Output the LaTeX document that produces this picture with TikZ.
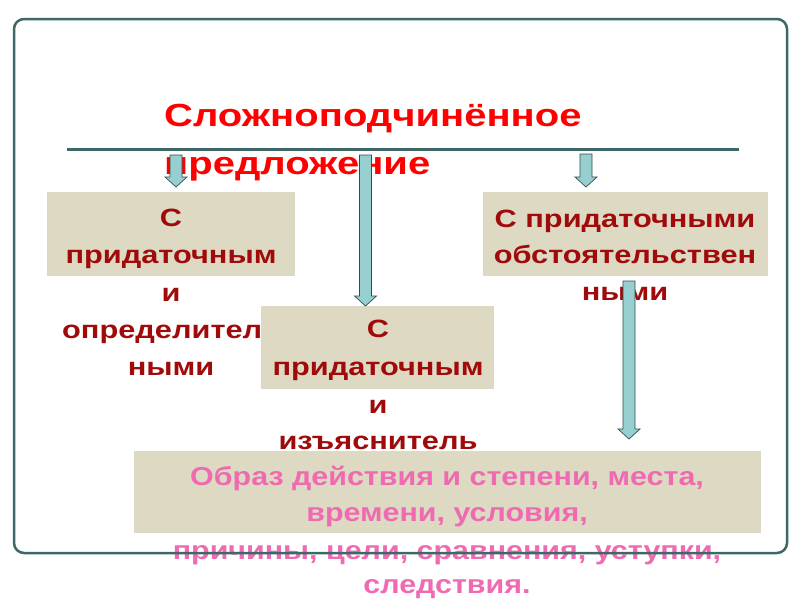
\documentclass[tikz,border=0pt]{standalone}
\usepackage{fontspec}
\setmainfont{Liberation Sans}
\newfontfamily\widefont[FakeStretch=1.23]{Liberation Sans}
\newfontfamily\titlefont[FakeStretch=1.25]{Liberation Sans}
\newfontfamily\pinkfont[FakeStretch=1.17]{Liberation Sans}
\definecolor{frame}{HTML}{3E6868}
\definecolor{tan}{HTML}{DDD9C3}
\definecolor{darkred}{HTML}{A00A0A}
\definecolor{pinktxt}{HTML}{F06AB2}
\definecolor{arrfill}{HTML}{97CFD0}
\definecolor{arrline}{HTML}{2F4F4F}
\definecolor{bgmid}{HTML}{D9E1E3}
\tikzset{
  tanbox/.style={fill=tan, draw=none, inner sep=0pt, anchor=north west},
  boxtxt/.style={anchor=base, inner sep=0pt, text=darkred, font=\widefont\bfseries\fontsize{25}{25}\selectfont},
  titletxt/.style={anchor=base west, inner sep=0pt, text=red, font=\titlefont\bfseries\fontsize{32}{32}\selectfont},
  pinkline/.style={anchor=base, inner sep=0pt, text=pinktxt, font=\pinkfont\bfseries\fontsize{26}{26}\selectfont},
  blockarrow/.style={fill=arrfill, draw=arrline, line width=0.7pt, line join=miter},
}
\newcommand\barrow[3]{% center x, top y, tip y
  \draw[blockarrow] (#1-6,#2) -- (#1+6,#2) -- (#1+6,#3-10) -- (#1+11,#3-10)
    -- (#1,#3) -- (#1-11,#3-10) -- (#1-6,#3-10) -- cycle;}
\begin{document}
\begin{tikzpicture}[x=1pt,y=-1pt]
\useasboundingbox (0,0) rectangle (800,600);
\shade[top color=white, middle color=bgmid, bottom color=white, shading angle=0] (0,0) rectangle (800,600);
% line
\coordinate (lineL) at (67,149);
\coordinate (lineR) at (739,149);
\draw[frame, line width=3pt] (lineL) -- (lineR);
% title
\node[titletxt] (title1) at (164,126) {Сложноподчинённое};
\node[titletxt] (title2) at (164,174) {предложение};
% left box and text
\path (47,192) node[tanbox, minimum width=248pt, minimum height=84pt] (boxL) {};
\node[boxtxt] (l1) at (171,226) {С};
\node[boxtxt] (l2) at (171,263) {придаточным};
\node[boxtxt] (l3) at (171,301) {и};
\node[boxtxt, anchor=base west] (l4) at (62,338) {определител};
\node[boxtxt] (l5) at (171,375) {ными};
% right box and text
\path (483,192) node[tanbox, minimum width=285pt, minimum height=84pt] (boxR) {};
\node[boxtxt] (r1) at (625,227) {С придаточными};
\node[boxtxt] (r2) at (625,263) {обстоятельствен};
\node[boxtxt] (r3) at (625,300) {ными};
% middle box and text
\path (261,306) node[tanbox, minimum width=233pt, minimum height=83pt] (boxM) {};
\node[boxtxt] (m1) at (378,337) {С};
\node[boxtxt] (m2) at (378,375) {придаточным};
\node[boxtxt] (m3) at (378,413) {и};
\node[boxtxt] (m4) at (378,449) {изъяснитель};
% bottom box and text
\path (134,451) node[tanbox, minimum width=627pt, minimum height=82pt] (boxB) {};
\node[pinkline] (b1) at (447,485) {Образ действия и степени, места,};
\node[pinkline] (b2) at (447,521) {времени, условия,};
\node[pinkline] (b3) at (447,559) {причины, цели, сравнения, уступки,};
\node[pinkline] (b4) at (447,593) {следствия.};
% arrows
\barrow{176}{155}{187}
\barrow{586}{154}{187}
\barrow{365.5}{155}{306}
\barrow{629}{281}{439}
% outer frame (on top)
\draw[frame, line width=2.5pt, rounded corners=10pt] (14,19) rectangle (787,553);
\end{tikzpicture}
\end{document}
